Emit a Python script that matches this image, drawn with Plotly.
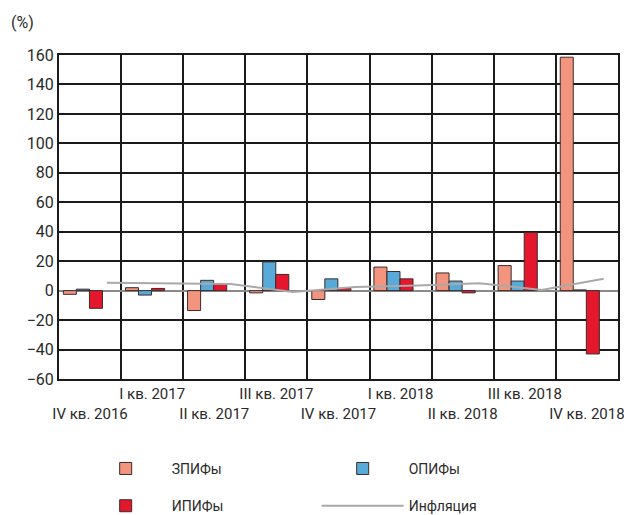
import numpy as np
import plotly.graph_objects as go

# Квартальная доходность ПИФов и инфляция, %
quarters = ["IV кв. 2016", "I кв. 2017", "II кв. 2017", "III кв. 2017", "IV кв. 2017",
            "I кв. 2018", "II кв. 2018", "III кв. 2018", "IV кв. 2018"]
zpif = [-2.5, 2, -13.5, -1.5, -6, 16, 12, 17, 158.5]
opif = [1, -3, 7, 19.5, 8, 13, 6.5, 6.5, 0.5]
ipif = [-12, 1.5, 4.5, 11, 1.5, 8, -1.5, 39.5, -43]
inflation = [5.4, 5, 4.5, -1, 2.5, 3.5, 5, 0.5, 8]

y_ticks = list(range(-60, 161, 20))

FONT = "Roboto, Liberation Sans Narrow, sans-serif"
C_ZPIF = "#f3947f"
C_OPIF = "#58abd9"
C_IPIF = "#e5172d"
C_INFL = "#a9a9a9"
EDGE = "#3b2b2b"

pos = np.arange(len(quarters))
bar_w = 0.21

fig = go.Figure()

series = [("ЗПИФы", zpif, C_ZPIF, -0.43, "legend"),
          ("ОПИФы", opif, C_OPIF, -0.22, "legend"),
          ("ИПИФы", ipif, C_IPIF, -0.01, "legend2")]
for name, vals, col, off, lg in series:
    fig.add_trace(go.Bar(
        x=pos, y=vals, name=name, width=bar_w, offset=off,
        marker=dict(color=col, line=dict(color=EDGE, width=1)),
        legend=lg,
    ))

fig.add_trace(go.Scatter(
    x=pos + 0.27, y=inflation, name="Инфляция", mode="lines",
    line=dict(color=C_INFL, width=2), legend="legend2",
))

# Подписи кварталов в два ряда
tick_text = [q + "<br> " if i % 2 else " <br>" + q for i, q in enumerate(quarters)]

legend_common = dict(orientation="h", xanchor="left", yanchor="top",
                     entrywidth=140, entrywidthmode="pixels", itemwidth=82,
                     font=dict(size=14), bgcolor="rgba(0,0,0,0)", x=0.037)

fig.update_layout(
    width=624, height=515,
    margin=dict(l=59, r=6, t=55, b=136, autoexpand=False),
    paper_bgcolor="white", plot_bgcolor="white",
    barmode="overlay",
    font=dict(family=FONT, size=15, color="#2a2a2a"),
    xaxis=dict(
        range=[-0.5, len(quarters) - 0.5], automargin=False,
        tickvals=pos, ticktext=tick_text, tickangle=0,
        ticklabeloverflow="allow",
        showgrid=False, zeroline=False, ticks="",
        showline=True, linecolor="#1a1a1a", linewidth=2, mirror=True,
        minor=dict(tickvals=pos[:-1] + 0.5, showgrid=True,
                   gridcolor="#1a1a1a", gridwidth=2, ticks=""),
        tickfont=dict(size=15),
    ),
    yaxis=dict(
        range=[-60, 160], tickvals=y_ticks, automargin=False,
        showgrid=True, gridcolor="#1a1a1a", gridwidth=2,
        zeroline=True, zerolinecolor="#8a8a8a", zerolinewidth=2,
        showline=True, linecolor="#1a1a1a", linewidth=2, mirror=True,
        ticks="", tickfont=dict(size=16),
    ),
    legend=dict(y=-0.228, **legend_common),
    legend2=dict(y=-0.343, **legend_common),
    showlegend=True,
)

fig.add_annotation(text="(%)", xref="paper", yref="paper", x=-0.09, y=1.1,
                   xanchor="left", yanchor="middle", showarrow=False,
                   font=dict(size=16))

fig.write_html("out.html")
